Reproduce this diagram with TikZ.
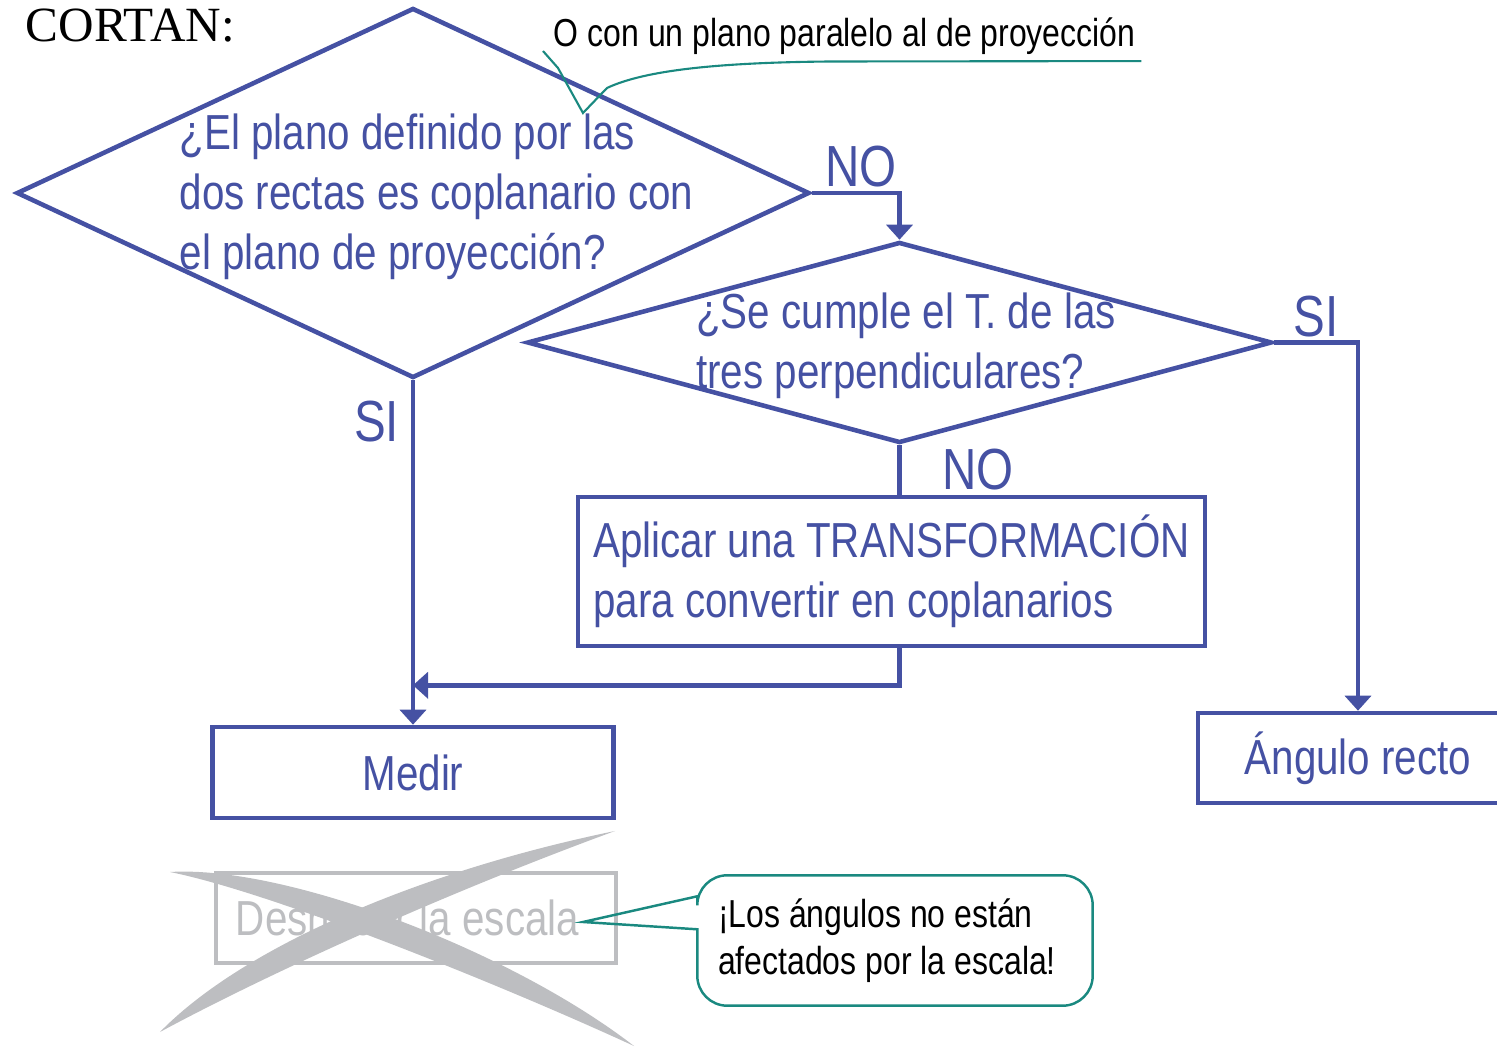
\documentclass[tikz,border=0pt]{standalone}
\usepackage{fontspec}
\setmainfont{Liberation Sans}[FakeStretch=0.82]
\newfontfamily\serifa{Liberation Serif}
\usetikzlibrary{arrows.meta,shapes.geometric}
\definecolor{azul}{RGB}{69,81,163}
\definecolor{verde}{RGB}{26,137,128}
\definecolor{gris}{RGB}{189,190,193}

\begin{document}
\begin{tikzpicture}[
  texto/.style={text=azul,font=\fontsize{14}{17}\selectfont},
  decision/.style={diamond,draw=azul,line width=1.3pt,inner sep=0pt},
  box/.style={rectangle,draw=azul,line width=1.3pt,texto},
  rama/.style={text=azul,font=\fontsize{16.5}{19}\selectfont,inner sep=1pt},
  flow/.style={draw=azul,line width=1.3pt,-{Triangle[length=1.5mm,width=2.6mm]}},
  liga/.style={draw=azul,line width=1.3pt},
  nota/.style={font=\fontsize{11.1}{13.4}\selectfont},
  guia/.style={draw=verde,line width=0.6pt},
  tachado/.style={fill=gris}]
\path[use as bounding box] (0,0) rectangle (14.97,-10.48);
\clip (0,0) rectangle (14.97,-10.48);
\node[anchor=base west,inner sep=0,font=\serifa\fontsize{14}{17}\selectfont]
  (cortan) at (0.25,-0.42) {CORTAN:};
\node[nota,anchor=base west,inner sep=1.5pt] (paralelo) at (5.48,-0.47)
  {O con un plano paralelo al de proyección};
\node[decision,minimum width=7.93cm,minimum height=3.70cm] (plano) at (4.13,-1.93) {};
\node[texto,align=left] (plano texto) at (4.365,-1.97)
  {¿El plano definido por las\\dos rectas es coplanario con\\el plano de proyección?};
\node[decision,minimum width=7.45cm,minimum height=2.01cm] (perp) at (8.995,-3.425) {};
\node[texto,align=left] (perp texto) at (9.06,-3.46)
  {¿Se cumple el T. de las\\tres perpendiculares?};
\node[box,minimum width=6.27cm,minimum height=1.49cm,align=left]
  (transf) at (8.915,-5.715) {Aplicar una TRANSFORMACIÓN\\para convertir en coplanarios};
\node[box,minimum width=4.01cm,minimum height=0.91cm] (medir) at (4.13,-7.725) {Medir};
\node[box,minimum width=3.2cm,minimum height=0.90cm] (recto) at (13.58,-7.58) {Ángulo recto};
\node[rectangle,draw=gris,line width=1.4pt,text=gris,font=\fontsize{14}{17}\selectfont,
  text width=3.6cm,inner xsep=0.2cm,align=flush left,minimum height=0.90cm]
  (escala) at (4.16,-9.18) {Deshacer la escala};
\fill[tachado] (1.70,-8.72) .. controls (2.85,-8.65) and (5.1,-9.5) .. (6.34,-10.46)
  .. controls (4.95,-9.82) and (2.7,-8.92) .. cycle;
\fill[tachado] (1.60,-10.32) .. controls (2.45,-9.45) and (4.25,-8.70) .. (6.15,-8.31)
  .. controls (4.35,-8.97) and (2.6,-9.78) .. cycle;
\node[nota,text width=3.54cm,inner xsep=0.2cm,minimum width=3.94cm,minimum height=1.29cm,
  align=flush left] (aviso) at (8.95,-9.405) {¡Los ángulos no están\\afectados por la escala!};
\coordinate (punta) at (5.83,-9.22);
\draw[guia,line width=0.7pt] ([yshift=-0.54cm]aviso.north west) [rounded corners=0.3cm]
  -- (aviso.south west) -- (aviso.south east) -- (aviso.north east) -- (aviso.north west)
  [sharp corners] -- ([yshift=-0.21cm]aviso.north west) -- (punta) -- cycle;
\draw[guia] (paralelo.south east) -- (8.3,-0.615) .. controls (7.2,-0.625) and (6.45,-0.70)
  .. (6.07,-0.88) -- (5.83,-1.13) -- (5.58,-0.68) -- (5.43,-0.51);
\draw[flow] (plano.east) -| node[rama,pos=0.28,above] {NO} (perp.north);
\draw[flow] (plano.south) -- node[rama,pos=0.12,left=0.08cm] {SI} (medir.north);
\draw[liga] (perp.south) -- node[rama,pos=0.5,right=0.37cm] {NO} (perp.south |- transf.north);
\draw[flow] (perp.east) -| node[rama,pos=0.25,above] {SI} (recto.north);
\draw[flow] (transf.south -| perp.south) -- ++(0,-0.37) coordinate (codo) -- (codo -| medir.north);
\end{tikzpicture}
\end{document}
